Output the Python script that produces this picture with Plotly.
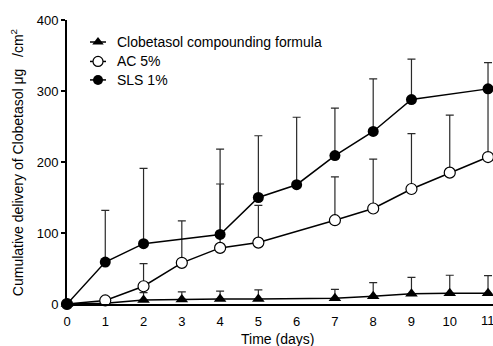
import plotly.graph_objects as go

# Data
clob_days = [0, 1, 2, 3, 4, 5, 7, 8, 9, 10, 11]
clob_vals = [0, 1, 5.5, 6.5, 7, 7, 8, 11, 14.5, 15, 15]
clob_err = [0, 1, 10.5, 10.5, 11, 13, 12.5, 19, 23, 25.5, 25]

ac_days = [0, 1, 2, 3, 4, 5, 7, 8, 9, 10, 11]
ac_vals = [0, 5, 25, 58, 79, 86.5, 118, 134.5, 162, 185, 207]
ac_err = [0, 0, 32, 59, 90, 52.5, 61, 69.5, 78, 81, 93]

sls_days = [0, 1, 2, 4, 5, 6, 7, 8, 9, 11]
sls_vals = [0, 59, 85, 98, 150, 168, 209, 243, 288, 303]
sls_err = [0, 73, 106, 120, 87, 95, 67, 74, 57, 37]

series_names = ["Clobetasol compounding formula", "AC 5%", "SLS 1%"]
x_ticks = list(range(0, 12))
y_ticks = [0, 100, 200, 300, 400]

FONT = "Liberation Sans, Arial, sans-serif"

markers = [
    dict(symbol="triangle-up", size=11, color="black"),
    dict(symbol="circle", size=11, color="white", line=dict(color="black", width=1.2)),
    dict(symbol="circle", size=11, color="black"),
]
legend_markers = [
    dict(symbol="triangle-up", size=10, color="black"),
    dict(symbol="circle", size=10, color="white", line=dict(color="black", width=1.2)),
    dict(symbol="circle", size=10, color="black"),
]


def eb(err):
    return dict(type="data", symmetric=False, array=err, arrayminus=[0] * len(err),
                color="#2a2a2a", thickness=1.2, width=4)


fig = go.Figure()
for days, vals, err, name, mk in [
    (clob_days, clob_vals, clob_err, series_names[0], markers[0]),
    (ac_days, ac_vals, ac_err, series_names[1], markers[1]),
    (sls_days, sls_vals, sls_err, series_names[2], markers[2]),
]:
    fig.add_trace(go.Scatter(
        x=days, y=vals, mode="lines+markers", name=name,
        line=dict(color="black", width=1.5), marker=mk,
        error_y=eb(err), cliponaxis=False, showlegend=False))

# Hand-made legend (on an invisible overlay axis in paper units)
leg_x0, leg_x1, leg_xm, leg_text_x = 0.054, 0.0915, 0.0728, 0.113
leg_rows = [0.9225, 0.854, 0.789]
annotations = []
for name, mk, yr in zip(series_names, legend_markers, leg_rows):
    fig.add_trace(go.Scatter(x=[leg_x0, leg_x1], y=[yr, yr], mode="lines",
                             line=dict(color="black", width=1.5),
                             xaxis="x2", yaxis="y2", showlegend=False, hoverinfo="skip"))
    fig.add_trace(go.Scatter(x=[leg_xm], y=[yr], mode="markers", marker=mk,
                             xaxis="x2", yaxis="y2", showlegend=False, hoverinfo="skip"))
    annotations.append(dict(text=name, xref="paper", yref="paper", x=leg_text_x, y=yr,
                            xanchor="left", yanchor="middle", showarrow=False,
                            font=dict(size=14, family=FONT)))

annotations += [
    dict(text="Cumulative delivery of Clobetasol \u03bcg   /cm<sup>2</sup>", xref="paper", yref="paper",
         x=-0.117, y=0.4965, textangle=-90, showarrow=False, xanchor="center", yanchor="middle",
         font=dict(size=14, family=FONT)),
    dict(text="Time (days)", xref="paper", yref="paper", x=0.495, y=-0.123,
         showarrow=False, xanchor="center", yanchor="middle", font=dict(size=14, family=FONT)),
    dict(text=str(x_ticks[-1]), xref="x", yref="paper", x=x_ticks[-1], y=-0.0585,
         showarrow=False, xanchor="center", yanchor="middle", font=dict(size=13, family=FONT)),
]

fig.update_layout(
    width=493, height=346,
    margin=dict(l=67, r=0, t=20, b=42),
    paper_bgcolor="white", plot_bgcolor="white",
    font=dict(family=FONT, size=12, color="black"),
    showlegend=False,
    xaxis=dict(range=[0, 11.13], tickvals=x_ticks[:-1], showgrid=False, zeroline=False,
               showline=True, linecolor="black", linewidth=2,
               ticks="outside", ticklen=4, tickcolor="rgba(0,0,0,0)",
               tickfont=dict(size=13, family=FONT)),
    yaxis=dict(range=[0, 400], tickvals=y_ticks, showgrid=False, zeroline=False,
               showline=True, linecolor="black", linewidth=2,
               ticks="outside", ticklen=4, tickwidth=1.5, tickcolor="black",
               tickfont=dict(size=13, family=FONT)),
    xaxis2=dict(range=[0, 1], overlaying="x", anchor="y2", visible=False, fixedrange=True),
    yaxis2=dict(range=[0, 1], overlaying="y", anchor="x2", visible=False, fixedrange=True),
    annotations=annotations,
)

fig.write_html("out.html")
